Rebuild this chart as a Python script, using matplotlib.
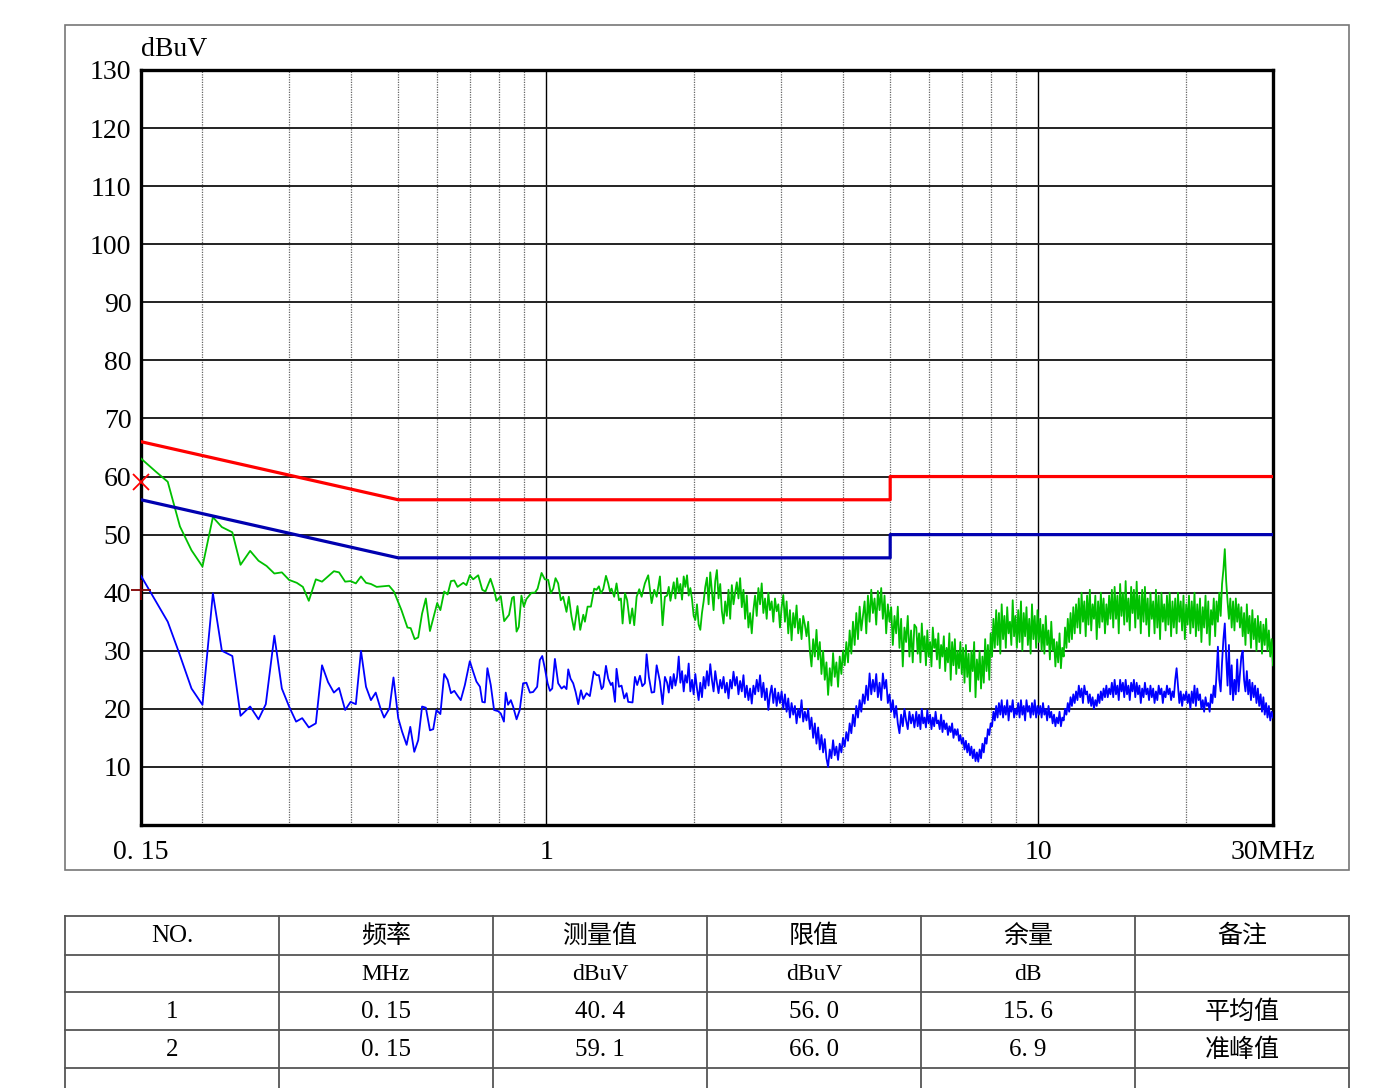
import numpy as np
import matplotlib
matplotlib.use("Agg")
import matplotlib.pyplot as plt
from matplotlib.patches import Rectangle

plt.rcParams['font.family'] = ['Liberation Serif', 'Noto Sans CJK SC', 'DejaVu Sans']

# ---- limit lines (MHz, dBuV) ----
qp_limit_f = [0.15, 0.5, 5.0, 5.0, 30.0]
qp_limit_v = [66.0, 56.0, 56.0, 60.0, 60.0]
av_limit_f = [0.15, 0.5, 5.0, 5.0, 30.0]
av_limit_v = [56.0, 46.0, 46.0, 50.0, 50.0]

# ---- peak trace (green), low band: read point by point ----
pk_f1 = [0.15, 0.161, 0.170, 0.180, 0.190, 0.200, 0.210, 0.219, 0.230, 0.239, 0.250, 0.260,
         0.270, 0.280, 0.290, 0.300, 0.311, 0.320, 0.329, 0.340, 0.350, 0.360, 0.370, 0.379,
         0.390, 0.400, 0.410, 0.420, 0.430, 0.440, 0.452, 0.466, 0.479, 0.490,
         0.5076, 0.522, 0.530, 0.540, 0.549, 0.559, 0.569, 0.580, 0.589, 0.600,
         0.609, 0.620, 0.630, 0.640, 0.650, 0.660, 0.678, 0.688, 0.699, 0.710,
         0.727, 0.741, 0.752, 0.770, 0.783, 0.792, 0.808, 0.821, 0.840, 0.852,
         0.859, 0.870, 0.879, 0.890, 0.900, 0.911, 0.933, 0.948, 0.960, 0.978,
         0.993, 1.009, 1.021, 1.033, 1.044, 1.057, 1.070, 1.082, 1.099, 1.111,
         1.125, 1.139, 1.157, 1.172, 1.189, 1.198, 1.213, 1.232, 1.251, 1.265,
         1.279, 1.291, 1.305, 1.322, 1.336, 1.347, 1.357, 1.374, 1.389, 1.405,
         1.418, 1.429, 1.445, 1.460, 1.479, 1.495, 1.509, 1.526, 1.545, 1.562,
         1.586, 1.611, 1.637, 1.657, 1.676, 1.702, 1.723, 1.742]
pk_v1 = [63.1, 60.8, 59.1, 51.4, 47.3, 44.5, 53.0, 51.3, 50.4, 44.8, 47.2, 45.5,
         44.6, 43.3, 43.5, 42.2, 41.7, 41.0, 38.6, 42.3, 41.9, 42.8, 43.7, 43.5,
         41.9, 42.0, 41.6, 42.8, 41.7, 41.5, 41.0, 41.1, 41.2, 40.2,
         37.0, 34.0, 33.9, 32.0, 32.3, 36.4, 39.0, 33.4, 35.6, 38.2,
         37.0, 40.2, 39.7, 42.0, 42.1, 41.0, 41.7, 41.3, 43.0, 42.3,
         43.0, 40.5, 40.2, 42.4, 40.5, 38.6, 39.4, 35.1, 36.2, 39.1,
         39.3, 33.3, 34.1, 39.5, 37.6, 38.9, 40.0, 40.0, 40.7, 43.4,
         42.3, 42.2, 39.9, 40.7, 42.5, 41.6, 38.7, 39.3, 36.7, 39.3,
         35.9, 33.6, 37.7, 33.6, 36.2, 35.0, 37.6, 37.6, 40.7, 40.5,
         41.1, 39.9, 40.6, 42.9, 41.6, 40.2, 40.7, 39.3, 41.6, 38.7,
         39.0, 34.7, 39.9, 38.7, 34.7, 37.3, 34.4, 39.3, 40.6, 39.3,
         41.6, 43.0, 38.2, 40.5, 39.3, 42.8, 34.4, 39.3]

# ---- average trace (blue), low band ----
av_f1 = [0.15, 0.170, 0.179, 0.190, 0.200, 0.210, 0.219, 0.230, 0.239, 0.250, 0.260, 0.269,
         0.280, 0.290, 0.300, 0.310, 0.319, 0.329, 0.340, 0.350, 0.360, 0.370, 0.379, 0.390,
         0.400, 0.410, 0.420, 0.430, 0.440, 0.450, 0.460, 0.468, 0.480, 0.489,
         0.500, 0.509, 0.520, 0.529, 0.539, 0.549, 0.559, 0.569, 0.580, 0.589,
         0.598, 0.609, 0.620, 0.630, 0.640, 0.650, 0.662, 0.670, 0.683, 0.699,
         0.710, 0.721, 0.733, 0.741, 0.750, 0.759, 0.771, 0.783, 0.798, 0.808,
         0.820, 0.827, 0.836, 0.847, 0.856, 0.870, 0.883, 0.897, 0.911, 0.926,
         0.940, 0.958, 0.970, 0.981, 0.993, 1.006, 1.017, 1.028, 1.041, 1.057,
         1.074, 1.087, 1.099, 1.108, 1.120, 1.134, 1.147, 1.161, 1.176, 1.189,
         1.207, 1.226, 1.249, 1.265, 1.279, 1.295, 1.305, 1.322, 1.336, 1.353,
         1.363, 1.379, 1.389, 1.405, 1.422, 1.440, 1.456, 1.467, 1.497, 1.514,
         1.530, 1.550, 1.567, 1.586, 1.599, 1.616, 1.637, 1.657, 1.676, 1.702,
         1.723, 1.742]
av_v1 = [42.9, 35.0, 29.8, 23.5, 20.7, 39.9, 30.0, 29.1, 18.8, 20.4, 18.2, 20.8,
         32.6, 23.5, 20.4, 17.8, 18.4, 16.8, 17.5, 27.5, 24.6, 22.8, 23.6, 19.8,
         21.2, 20.8, 30.0, 23.8, 21.5, 22.8, 20.1, 18.5, 20.1, 25.4,
         18.4, 16.1, 13.8, 16.9, 12.6, 14.6, 20.4, 20.2, 16.3, 16.5,
         19.8, 19.1, 26.0, 25.0, 22.7, 23.1, 22.1, 21.5, 24.1, 28.2,
         26.4, 24.7, 23.8, 21.2, 21.1, 27.0, 24.1, 19.8, 19.6, 19.2,
         17.8, 22.8, 20.7, 21.5, 20.4, 18.2, 19.8, 24.4, 24.5, 22.8,
         22.9, 23.8, 28.4, 29.1, 27.0, 24.4, 23.1, 23.5, 28.6, 24.4,
         23.5, 23.9, 23.4, 26.8, 25.2, 24.4, 22.9, 20.8, 23.2, 21.7,
         22.7, 22.2, 26.4, 25.8, 25.8, 23.4, 23.8, 27.4, 25.2, 24.1,
         24.5, 21.2, 26.9, 23.8, 24.0, 21.8, 22.7, 21.2, 21.1, 25.5,
         24.1, 25.7, 23.9, 24.4, 29.4, 25.5, 22.8, 22.9, 27.5, 24.7,
         20.8, 25.5]

# ---- dense scan 1.76 - 5.6 MHz (values read along the sweep) ----
pk_v2 = [39.5, 41.0, 38.6, 40.2, 41.8, 39.0, 42.5, 40.0, 41.5, 38.8, 42.8, 41.0, 43.0, 39.5, 40.8, 38.9,
         36.0, 35.3, 38.0, 34.5, 33.6, 36.5,
         38.5, 41.0, 42.6, 38.0, 43.5, 40.2, 37.0, 42.0, 43.9, 39.0, 41.5, 36.8,
         34.7, 38.5, 36.0, 40.5, 35.5, 41.3, 38.0, 40.0,
         41.8, 39.0, 42.5, 37.5, 40.5, 35.5, 39.5, 34.0, 36.5, 33.0,
         37.0, 39.5, 36.0, 40.8, 38.0, 41.6, 36.5, 39.0, 35.5, 40.0, 37.0, 38.5, 35.0, 39.0, 36.8, 38.0, 34.0, 37.5,
         39.6, 35.0, 38.5, 33.0, 37.0, 31.8, 36.5, 34.0, 37.8, 33.0, 35.5, 32.0, 36.0, 34.5, 32.5, 35.0,
         30.0, 27.3, 32.0, 29.0, 33.6, 28.5, 31.5, 26.0, 30.0, 25.0, 28.0, 22.4,
         27.0, 24.0, 29.6, 25.5, 28.0, 23.8, 29.0, 26.0, 30.0, 27.5,
         31.5, 28.0, 33.5, 29.5, 35.0, 31.0, 36.5, 32.0, 37.6, 33.5,
         36.0, 38.5, 33.0, 39.5, 35.0, 40.5, 36.5, 39.0, 34.5, 40.3, 37.0, 40.8, 35.5, 39.5, 33.0, 38.0,
         35.0, 37.5, 31.0, 36.0, 33.0, 37.6, 30.5, 35.5, 27.3, 34.0, 31.5, 36.0, 29.0, 33.5, 28.0, 34.5]
av_v2 = [24.5, 22.8, 25.5, 23.5, 26.0, 24.0, 25.5, 29.0, 24.5, 26.5, 23.0, 25.8, 24.5, 27.8, 23.0, 25.0,
         22.5, 26.0, 23.5, 21.5, 24.5, 22.0,
         25.5, 23.5, 26.5, 24.0, 27.7, 25.0, 23.0, 26.5, 24.5, 22.7, 25.0, 23.5,
         25.5, 22.8, 24.5, 21.8, 25.0, 23.5, 26.4, 24.0,
         25.5, 22.5, 24.8, 23.0, 25.8, 22.0, 24.0, 21.5, 23.5, 20.9,
         24.0, 22.5, 25.0, 23.0, 25.8, 22.0, 24.5, 21.5, 23.5, 19.8, 22.5, 24.0, 21.0, 23.5, 20.5, 22.8, 21.0, 23.0,
         20.0, 22.5, 19.5, 21.8, 18.5, 21.0, 19.0, 20.5, 17.5, 20.0, 18.5, 21.5, 17.8, 19.5, 18.0, 20.0,
         16.5, 18.5, 15.0, 17.5, 14.0, 16.8, 13.0, 15.5, 12.5, 14.8, 11.5, 10.0,
         13.0, 11.5, 14.6, 12.0, 13.5, 11.2, 14.0, 12.5, 15.0, 13.5,
         16.0, 14.5, 17.5, 15.8, 19.0, 17.0, 20.5, 18.5, 21.5, 19.5,
         22.5, 20.9, 24.0, 21.5, 26.1, 22.5, 25.0, 23.0, 26.0, 22.0, 24.5, 21.5, 26.1, 23.5, 25.0, 21.0,
         22.5, 19.5, 21.5, 18.5, 20.5, 17.5, 15.8, 19.0, 17.0, 20.0, 18.0, 16.5, 19.5, 17.5, 19.0, 16.8]

# ---- dense scan 5.65 - 30 MHz ----
pk_v3 = [34.0, 29.5, 33.0, 28.0, 34.7, 30.0, 32.5, 27.5, 33.5, 29.0, 31.5, 27.3, 34.0, 30.5, 32.0, 28.5,
         33.0, 27.0, 31.0, 29.0, 32.5, 26.5, 30.5, 28.0, 33.0, 25.0, 31.5, 27.5, 32.0, 26.0, 30.0, 27.0, 31.5,
         26.0, 30.5, 24.5, 31.0, 25.5, 29.5, 23.0, 30.0, 26.5, 31.5, 22.0, 28.5, 25.0, 30.0, 23.5, 29.0,
         24.5, 32.0, 26.5, 31.0, 25.0, 33.0,
         29.0, 35.5, 30.5, 37.0, 31.0, 36.5, 29.5, 38.0, 32.0, 36.0, 30.5, 37.5, 33.0, 35.0, 31.0, 38.7,
         32.5, 36.0, 30.5,
         37.0, 31.5, 38.5, 30.0, 36.5, 32.5, 37.5, 31.0, 35.5, 29.5, 38.0, 32.0, 36.0, 30.5, 37.0, 31.5,
         35.5, 30.0, 34.5, 29.5, 36.0, 31.0, 33.5, 28.5, 35.0, 30.0, 32.0, 27.3, 31.5, 28.0, 33.0, 27.0,
         30.5, 29.0, 34.0, 30.5, 35.5, 31.5, 36.5, 32.0, 37.5, 33.0, 38.0,
         34.0, 39.0, 33.0, 40.0, 35.0, 38.5, 32.5, 39.5, 34.5, 40.5, 33.5, 38.0, 35.5, 39.5, 32.0, 38.5,
         34.0, 40.0, 35.0, 39.0, 33.0, 38.0, 34.5, 39.5, 35.5,
         40.5, 34.0, 41.0, 35.5, 39.5, 33.0, 41.5, 36.0, 40.0, 34.5, 42.0, 35.0, 39.0, 33.5, 41.0, 36.5,
         40.5, 34.0, 41.9, 35.5, 39.5, 33.0, 40.5, 35.0, 41.0, 34.5, 39.0, 32.5, 40.0, 35.5, 38.5, 33.0,
         40.5, 34.0, 39.5, 32.0, 40.0, 35.0, 38.0, 33.5, 39.5, 34.5, 40.0, 32.5, 38.5, 34.0, 39.0, 33.0,
         40.0, 35.0, 38.5, 33.5, 39.5, 32.0, 38.0, 34.5,
         39.5, 33.0, 38.5, 34.0, 40.0, 32.5, 38.0, 33.5, 39.0, 31.5, 37.5, 34.0, 39.5, 33.0, 38.5, 31.0,
         37.0, 34.5, 39.0, 32.5, 38.5, 35.0, 40.0, 36.0, 41.5,
         44.0, 47.5, 42.0, 38.5, 35.5, 39.0, 34.0, 38.5, 33.5, 39.0, 35.0, 38.0, 34.0,
         37.5, 32.5, 36.5, 31.0, 38.0, 33.0, 36.0, 30.5, 37.0, 32.0, 35.5, 30.0, 36.0, 31.5, 35.0, 29.5,
         34.5, 31.0, 35.5, 30.0, 33.5, 29.0, 32.0, 27.5]
av_v3 = [19.5, 17.0, 19.0, 16.5, 20.0, 17.5, 18.5, 16.8, 19.8, 17.5, 19.0, 16.5, 18.5, 17.0, 19.5, 17.5,
         18.0, 16.5, 19.0, 16.0, 18.0, 16.5, 17.5, 15.5, 17.0, 16.0, 17.5, 15.0, 16.5, 15.5, 16.5, 14.5, 15.5,
         14.0, 15.0, 13.0, 14.5, 12.5, 14.0, 12.0, 13.5, 11.5, 13.0, 11.0, 12.5, 10.9, 13.0, 11.5, 14.0,
         12.5, 15.0, 14.0, 16.5, 15.5, 17.5,
         17.0, 19.5, 18.0, 20.5, 18.5, 21.0, 19.0, 21.5, 18.5, 20.5, 19.0, 21.5, 18.0, 20.5, 19.5, 21.5,
         18.5, 20.0, 19.0,
         21.0, 18.5, 21.5, 19.0, 20.5, 18.0, 21.5, 19.5, 20.5, 18.5, 21.0, 19.0, 21.5, 18.5, 20.5, 19.0,
         20.5, 18.5, 21.0, 19.0, 20.0, 18.0, 20.5, 18.5, 19.5, 17.5, 19.0, 17.0, 18.5, 17.5, 19.5, 17.0,
         18.5, 18.0, 20.0, 19.0, 21.0, 19.5, 22.0, 20.5, 22.5, 21.0, 23.0,
         21.5, 24.0, 22.0, 23.5, 21.0, 24.0, 22.5, 23.0, 21.0, 22.5, 20.5, 22.0, 20.0, 21.5, 20.5, 22.5,
         21.0, 23.0, 21.5, 23.5, 22.0, 24.0, 22.0, 23.5, 22.5,
         24.5, 22.0, 25.0, 22.5, 24.0, 21.5, 25.0, 23.0, 24.5, 22.0, 25.0, 22.5, 24.0, 21.5, 24.5, 23.0,
         25.0, 22.0, 24.5, 22.5, 24.0, 21.0, 23.5, 22.0, 24.5, 22.5, 23.5, 21.5, 24.0, 22.0, 23.5, 21.0,
         23.0, 21.5, 24.0, 22.5, 23.5, 21.0, 23.0, 22.0, 24.0, 22.5, 23.5, 21.5, 23.0, 22.0, 25.0, 27.0,
         24.0, 21.0, 23.0, 20.5, 22.5, 21.5, 23.0, 21.0,
         22.5, 20.0, 23.0, 21.0, 24.0, 20.5, 23.5, 21.5, 22.5, 20.0, 21.5, 19.5, 22.0, 20.5, 21.0, 19.5,
         22.5, 21.0, 24.0, 22.0, 26.0, 30.7, 25.0, 23.0, 28.0,
         32.0, 34.7, 29.0, 24.0, 31.0, 22.5, 27.5, 21.5, 25.0, 22.5, 28.5, 23.0, 26.0,
         29.0, 30.0, 25.0, 23.0, 26.5, 22.5, 25.0, 21.5, 24.5, 22.0, 24.0, 21.0, 23.5, 20.5, 22.5, 19.5,
         22.0, 19.0, 21.0, 18.5, 20.5, 18.0, 19.5, 18.5]

# ---- final measurements (table + markers) ----
meas_no = [1, 2]
meas_freq = [0.15, 0.15]
meas_level = [40.4, 59.1]
meas_limit = [56.0, 66.0]
meas_margin = [15.6, 6.9]
meas_note = ["平均值", "准峰值"]
table_head = ["NO.", "频率", "测量值", "限值", "余量", "备注"]
table_unit = ["", "MHz", "dBuV", "dBuV", "dB", ""]

y_ticks = list(range(10, 131, 10))
x_ticks = [0.15, 1, 10, 30]
x_tick_labels = ["0. 15", "1", "10", "30MHz"]
minor_grid = [0.2, 0.3, 0.4, 0.5, 0.6, 0.7, 0.8, 0.9, 2, 3, 4, 5, 6, 7, 8, 9, 20]
major_grid = [1, 10]

# sweep grids of the dense parts of the scan
pk_f = np.concatenate([pk_f1, np.geomspace(1.76, 5.6, len(pk_v2)), np.geomspace(5.65, 30, len(pk_v3))])
pk_v = np.concatenate([pk_v1, pk_v2, pk_v3])
av_f = np.concatenate([av_f1, np.geomspace(1.76, 5.6, len(av_v2)), np.geomspace(5.65, 30, len(av_v3))])
av_v = np.concatenate([av_v1, av_v2, av_v3])

W, H = 1378, 1088
fig = plt.figure(figsize=(W / 100, H / 100), dpi=100)

# page layer (frame + table) in pixel units
bg = fig.add_axes([0, 0, 1, 1], zorder=0)
bg.set_xlim(0, W)
bg.set_ylim(H, 0)
bg.axis("off")
bg.add_patch(Rectangle((65, 25), 1284, 845, fill=False, ec="#777777", lw=1.2))

col_x = [65, 279, 493, 707, 921, 1135, 1349]
row_y = [916, 955, 992, 1030, 1068]
for yy in row_y:
    bg.plot([col_x[0], col_x[-1]], [yy, yy], color="#555555", lw=1.3)
for xx in col_x:
    bg.plot([xx, xx], [row_y[0], H], color="#555555", lw=1.3)

def cell(c, r, s, size=18):
    bg.text((col_x[c] + col_x[c + 1]) / 2, (row_y[r] + row_y[r + 1]) / 2 + 1, s,
            ha="center", va="center", fontsize=size)

for c in range(6):
    cell(c, 0, table_head[c])
    cell(c, 1, table_unit[c], size=17)
fmt = lambda v, d: f"{v:.{d}f}".replace(".", ". ")
for i in range(len(meas_no)):
    vals = [str(meas_no[i]), fmt(meas_freq[i], 2), fmt(meas_level[i], 1),
            fmt(meas_limit[i], 1), fmt(meas_margin[i], 1), meas_note[i]]
    for c in range(6):
        cell(c, 2 + i, vals[c])

# chart
ax = fig.add_axes([141 / W, 1 - 825 / H, (1273 - 141) / W, (825 - 70) / H], zorder=1)
ax.set_xscale("log")
ax.set_xlim(0.15, 30)
ax.set_ylim(0, 130)

for g in minor_grid:
    ax.axvline(g, color="#666666", lw=0.9, ls=(0, (1, 1)), zorder=1)
for g in major_grid:
    ax.axvline(g, color="black", lw=1.0, zorder=1)
for t in y_ticks:
    ax.axhline(t, color="#222222", lw=1.4, zorder=1)

ax.plot(pk_f, pk_v, color="#00c000", lw=1.3, zorder=3)
ax.plot(av_f, av_v, color="#0000ff", lw=1.3, zorder=3)
ax.plot(qp_limit_f, qp_limit_v, color="#ff0000", lw=2.3, zorder=4)
ax.plot(av_limit_f, av_limit_v, color="#0000b0", lw=2.3, zorder=4)

ax.plot(meas_freq[1], meas_level[1], marker="x", ms=12, mew=1.3, color="#ff0000",
        clip_on=False, zorder=5)
ax.plot(meas_freq[0], meas_level[0], marker="+", ms=14, mew=1.3, color="#800000",
        clip_on=False, zorder=5)

ax.set_yticks(y_ticks)
ax.set_yticklabels([str(t) for t in y_ticks], fontsize=20)
ax.set_xticks(x_ticks)
ax.set_xticklabels(x_tick_labels, fontsize=20)
ax.xaxis.set_minor_locator(matplotlib.ticker.NullLocator())
ax.tick_params(axis="both", length=0)
ax.tick_params(axis="y", pad=7)
ax.tick_params(axis="x", pad=11)
for s in ax.spines.values():
    s.set_linewidth(2.4)
ax.text(0.0, 1.01, "dBuV", transform=ax.transAxes, fontsize=20, ha="left", va="bottom")

fig.savefig("out.png", dpi=100)
